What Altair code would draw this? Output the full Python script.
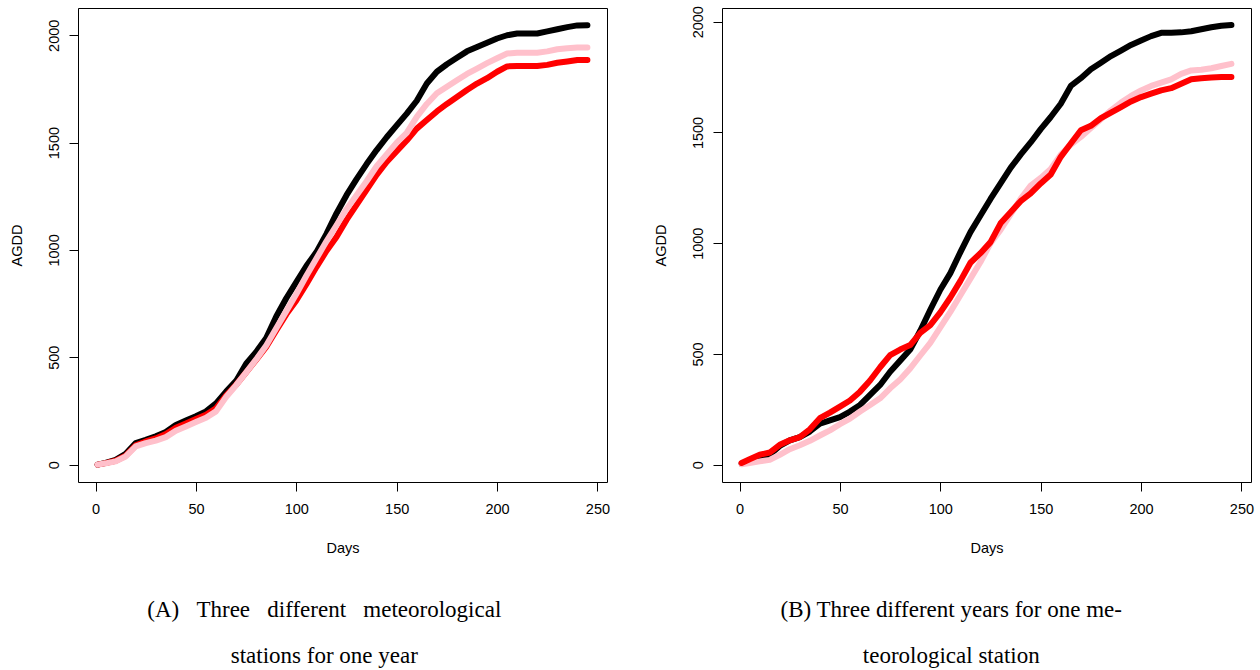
import altair as alt
import pandas as pd

days = [1, 5, 10, 15, 20, 25, 30, 35, 40, 45, 50, 55, 60, 65, 70, 75, 80, 85, 90, 95,
        100, 105, 110, 115, 120, 125, 130, 135, 140, 145, 150, 155, 160, 165, 170, 175,
        180, 185, 190, 195, 200, 205, 210, 215, 220, 225, 230, 235, 240, 245]

# Panel A: three meteorological stations, one year
a_black = [0, 8, 22, 50, 100, 115, 132, 152, 185, 205, 225, 248, 285, 340, 390, 470, 525, 590, 690, 775,
           850, 925, 990, 1075, 1170, 1255, 1330, 1400, 1465, 1525, 1580, 1635, 1695, 1775, 1830, 1865,
           1895, 1925, 1945, 1965, 1985, 2000, 2008, 2008, 2008, 2018, 2028, 2038, 2046, 2047]
a_red = [0, 7, 18, 42, 90, 108, 122, 142, 172, 192, 212, 232, 262, 322, 372, 430, 488, 548, 625, 700,
         765, 840, 920, 995, 1060, 1140, 1210, 1280, 1350, 1410, 1460, 1510, 1565, 1605, 1645, 1680,
         1712, 1745, 1775, 1800, 1830, 1855, 1857, 1857, 1857, 1862, 1872, 1878, 1885, 1885]
a_pink = [0, 6, 15, 38, 85, 100, 112, 128, 158, 178, 198, 218, 248, 315, 370, 430, 490, 555, 635, 715,
          795, 880, 960, 1040, 1115, 1190, 1255, 1320, 1390, 1445, 1500, 1545, 1620, 1680, 1730, 1760,
          1790, 1820, 1845, 1870, 1893, 1915, 1919, 1919, 1919, 1925, 1935, 1940, 1943, 1943]

# Panel B: three years, one meteorological station
b_black = [5, 15, 30, 45, 85, 110, 125, 150, 185, 200, 215, 240, 270, 315, 360, 420, 470, 520, 605, 700,
           790, 865, 960, 1050, 1125, 1200, 1270, 1340, 1400, 1455, 1515, 1570, 1630, 1710, 1745, 1785,
           1815, 1845, 1870, 1895, 1915, 1935, 1950, 1950, 1952, 1957, 1966, 1975, 1982, 1985]
b_red = [8, 25, 45, 55, 90, 110, 125, 160, 210, 235, 262, 290, 330, 380, 440, 495, 520, 540, 595, 630,
         688, 755, 830, 912, 955, 1005, 1090, 1140, 1190, 1225, 1270, 1310, 1390, 1450, 1510, 1530,
         1565, 1590, 1615, 1640, 1660, 1675, 1690, 1700, 1720, 1740, 1745, 1748, 1750, 1750]
b_pink = [2, 8, 15, 22, 45, 70, 88, 108, 132, 155, 183, 208, 240, 270, 300, 345, 385, 435, 493, 550,
          620, 690, 765, 840, 915, 1000, 1060, 1130, 1200, 1260, 1295, 1335, 1400, 1445, 1480, 1520,
          1560, 1600, 1635, 1665, 1690, 1710, 1725, 1740, 1765, 1780, 1783, 1790, 1800, 1810]

x_ticks = [0, 50, 100, 150, 200, 250]
y_ticks = [0, 500, 1000, 1500, 2000]

GAP = "\u00a0" * 3
caption_a = ["(A)" + GAP + "Three" + GAP + "different" + GAP + "meteorological", "stations for one year"]
caption_b = ["(B) Three different years for one me-", "teorological station"]

SANS = "Liberation Sans"
SERIF = "Liberation Serif"


def panel(series, ydom, caption, dx):
    layers = []
    for vals, col in series:
        df = pd.DataFrame({"Days": days, "AGDD": vals})
        layers.append(
            alt.Chart(df).mark_line(color=col, strokeWidth=6, strokeCap="round", strokeJoin="round").encode(
                x=alt.X("Days:Q",
                        scale=alt.Scale(domain=[-8.76, 254.76], nice=False, zero=False),
                        axis=alt.Axis(values=x_ticks, title="Days", grid=False, domain=False,
                                      tickSize=9, tickColor="#000", labelPadding=11, format="d",
                                      labelFont=SANS, labelFontSize=14.5, labelColor="#000",
                                      labelFlush=False, labelOverlap=False,
                                      titleFont=SANS, titleFontSize=14.5, titleFontWeight="normal",
                                      titleColor="#000", titlePadding=26)),
                y=alt.Y("AGDD:Q",
                        scale=alt.Scale(domain=ydom, nice=False, zero=False),
                        axis=alt.Axis(values=y_ticks, title="AGDD", grid=False, domain=False,
                                      tickSize=9, tickColor="#000", labelPadding=8, format="d",
                                      labelAngle=270, labelAlign="center", labelBaseline="bottom",
                                      labelFont=SANS, labelFontSize=14.5, labelColor="#000",
                                      labelFlush=False, labelOverlap=False,
                                      titleFont=SANS, titleFontSize=14.5, titleFontWeight="normal",
                                      titleColor="#000", titlePadding=22)),
            )
        )
    return alt.layer(*layers).properties(
        width=529, height=474,
        title=alt.TitleParams(text=caption, orient="bottom", anchor="middle", font=SERIF,
                              fontSize=23, fontWeight="normal", color="#000", lineHeight=45.5,
                              offset=44, dx=dx, frame="bounds"),
    )


left = panel([(a_black, "#000000"), (a_red, "#FF0000"), (a_pink, "#FFC0CB")],
             [-81, 2127], caption_a, 15)
right = panel([(b_black, "#000000"), (b_pink, "#FFC0CB"), (b_red, "#FF0000")],
              [-78, 2062], caption_b, -2)

chart = alt.hconcat(left, right, spacing=41).properties(
    padding={"left": 8, "top": 5, "right": 5, "bottom": 0},
    background="white",
).configure_view(stroke="#000000", strokeWidth=1)

chart.save("out.html", embed_options={"renderer": "svg", "actions": False})
